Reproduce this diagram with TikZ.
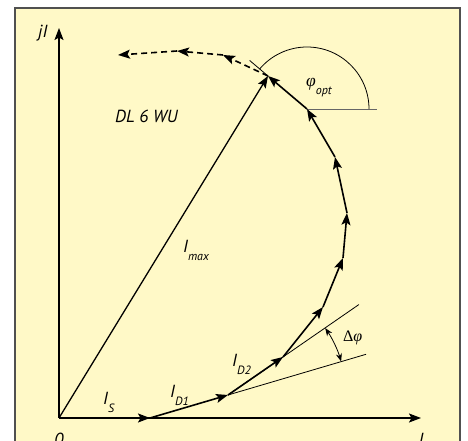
\documentclass[tikz,border=0pt]{standalone}
\usepackage{fontspec}
\setmainfont{PT Sans}
\newfontfamily\serif{Liberation Serif}
\usepackage{xcolor}
\usepackage{tikz}
\usetikzlibrary{arrows.meta,calc}

\definecolor{paper}{RGB}{255,249,199}
\definecolor{rim}{RGB}{80,80,80}
\newcommand{\lowsub}[1]{\raisebox{-0.42em}{\fontsize{12}{12}\selectfont #1}}

\begin{document}
\begin{tikzpicture}[x=1pt, y=1pt, >={Stealth[length=12pt,width=9pt,inset=2.5pt]},
  vec/.style={line width=1.6pt, ->},
  guide/.style={line width=0.8pt},
  every node/.style={font=\fontsize{17.5}{17.5}\selectfont\itshape, inner sep=0pt, anchor=base west}]
\useasboundingbox (0,0) rectangle (468,441);
\draw[rim, line width=1.3pt, fill=paper] (15,-10) rectangle (460,433);
% vector chain
\coordinate (O) at (59,23);
\coordinate (P1) at (150,23);
\coordinate (P2) at (228,46);
\coordinate (P3) at (283,84);
\coordinate (P4) at (323,134);
\coordinate (P5) at (343,183);
\coordinate (P6) at (347,228);
\coordinate (P7) at (335,284);
\coordinate (P8) at (307,332);
\coordinate (P9) at (268,365);
\coordinate (Q1) at (223,386);
\coordinate (Q2) at (177,390);
\coordinate (Q3) at (118,386);
\coordinate (ytip) at (59,413);
\coordinate (xtip) at (421,23);
% axes
\draw[vec] (O) -- (ytip);
\draw[vec] (O) -- (xtip);
\draw[line width=1.3pt, ->] (O) -- (P9);
% guides
\draw[guide] (P2) -- ($(P2)!2.38!(P3)$);
\draw[guide] (P2) -- ($(P1)!2.77!(P2)$);
\draw[guide, {Stealth[length=8pt,width=6pt]}-{Stealth[length=8pt,width=6pt]}] ($(P2)+(16.5:118)$) arc (16.5:34.6:118);
\draw[guide] (P9) -- ($(P8)!1.47!(P9)$);
\draw[guide] ($(P8)+(62,0)$) arc (0:140:62);
\draw[guide, gray!80!black] (P8) -- ++(70,0);
% steps
\draw[vec] (O) -- (P1); \draw[vec] (P1) -- (P2); \draw[vec] (P2) -- (P3);
\draw[vec] (P3) -- (P4); \draw[vec] (P4) -- (P5); \draw[vec] (P5) -- (P6);
\draw[vec] (P6) -- (P7); \draw[vec] (P7) -- (P8); \draw[vec] (P8) -- (P9);
\draw[vec, dash pattern=on 6pt off 4pt] (P9) -- (Q1);
\draw[vec, dash pattern=on 6pt off 4pt] (Q1) -- (Q2);
\draw[vec, dash pattern=on 6pt off 4pt] (Q2) -- (Q3);
% labels
\node (jI) at (38,403) {jI};
\node (call) at (115,318) {DL 6 WU};
\node (imax) at (183,188) {I\lowsub{max}};
\node (is) at (103,36) {I\lowsub{S}};
\node (id1) at (170,43) {I\lowsub{D1}};
\node (id2) at (232,74) {I\lowsub{D2}};
\node (phio) at (306,354) {{\serif φ}\lowsub{opt}};
\node[font=\fontsize{16}{16}\selectfont\serif] (dphi) at (343,99) {Δ\textit{φ}};
\node[anchor=north] (zero) at (59,8) {0};
\node[anchor=north] (iax) at (421,8) {I};
\end{tikzpicture}
\end{document}
